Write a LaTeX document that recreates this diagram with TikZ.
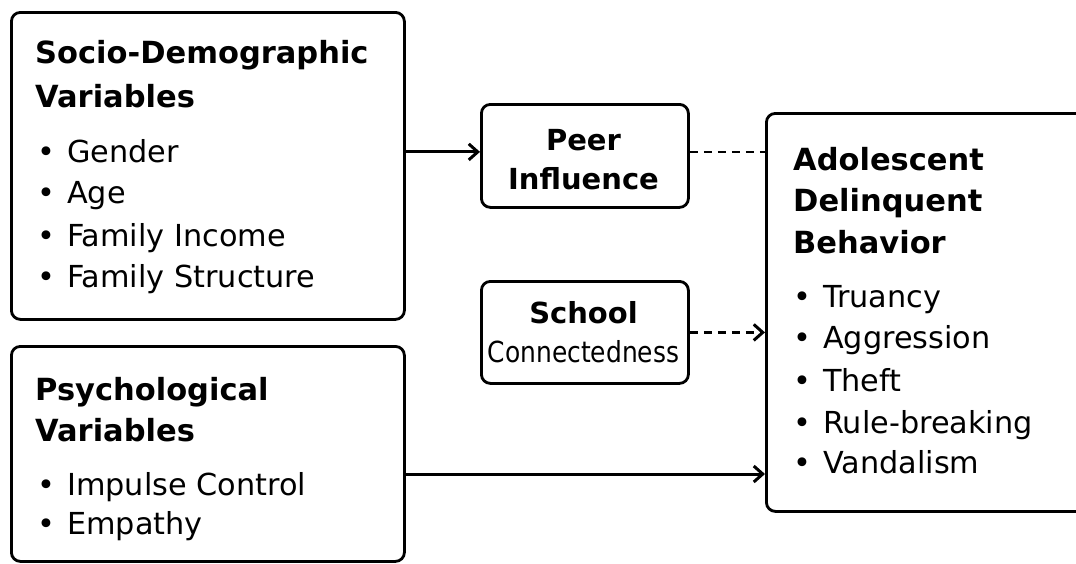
\documentclass[tikz,border=0pt]{standalone}
\usepackage{fontspec}
\setmainfont{DejaVu Sans}
\usetikzlibrary{arrows.meta,calc}
\tikzset{
  box/.style={draw=black, line width=2.8pt, rounded corners=9pt, fill=white, inner sep=0pt, anchor=north west},
  head/.style={anchor=base west, inner sep=0pt, font=\fontsize{30.5}{36}\selectfont\bfseries},
  item/.style={anchor=base west, inner sep=0pt, font=\fontsize{30.3}{36}\selectfont},
  ctext/.style={anchor=base, inner sep=0pt, font=\fontsize{29}{34}\selectfont\bfseries},
  conn/.style={line width=3pt, draw=black},
  tip/.style={-{Straight Barb[length=9pt,width=16pt,line width=3pt]}},
  dashline/.style={line width=2.5pt, dash pattern=on 8pt off 6pt}
}
\begin{document}
\begin{tikzpicture}[x=1pt,y=-1pt]
\useasboundingbox (0,0) rectangle (1076,563);
\clip (0,0) rectangle (1076,563);
\fill[white] (0,0) rectangle (1076,563);
% boxes
\node[box, minimum width=393pt, minimum height=307pt] (socio) at (10,11) {};
\node[box, minimum width=393pt, minimum height=215pt] (psych) at (10,345) {};
\node[box, minimum width=207pt, minimum height=103pt] (peer) at (480,103) {};
\node[box, minimum width=207pt, minimum height=102pt] (school) at (480,280) {};
\node[box, minimum width=330pt, minimum height=398pt] (outc) at (765,112) {};
% socio text
\node[head] (sh1) at (35,63) {Socio-Demographic};
\node[head] (sh2) at (35,107) {Variables};
\foreach \t/\y [count=\i] in {Gender/162, Age/203, Family Income/246, Family Structure/287}
  \node[item] (si\i) at (37,\y) {•\hspace{0.4em}\t};
% psych text
\node[head] (ph1) at (35,400) {Psychological};
\node[head] (ph2) at (35,441) {Variables};
\foreach \t/\y [count=\i] in {Impulse Control/495, Empathy/534}
  \node[item] (pi\i) at (37,\y) {•\hspace{0.4em}\t};
% peer / school
\node[ctext] (pt1) at (583.5,150) {Peer};
\node[ctext] (pt2) at (583.5,189) {Influence};
\node[ctext] (st1) at (583.5,323) {School};
\node[ctext, font=\fontsize{29}{34}\selectfont] (st2) at (583.5,362) {\scalebox{0.86}[1]{Connectedness}};
% outcome text
\node[head] (oh1) at (793,170) {Adolescent};
\node[head] (oh2) at (793,211) {Delinquent};
\node[head] (oh3) at (793,253) {Behavior};
\foreach \t/\y [count=\i] in {Truancy/307, Aggression/348, Theft/391, Rule-breaking/433, Vandalism/473}
  \node[item] (oi\i) at (793,\y) {•\hspace{0.4em}\t};
% connectors
\coordinate (pw) at ($(peer.west)+(0,-4)$);
\coordinate (pe) at ($(peer.east)+(0,-4)$);
\coordinate (pa) at (403,474);
\draw[conn, tip] (pw -| socio.east) -- (pw);
\draw[conn, dashline] (pe) -- (pe -| outc.west);
\draw[conn, dashline, tip] (school.east) -- (school.east -| outc.west);
\draw[conn, tip] (pa) -- (pa -| outc.west);
\end{tikzpicture}
\end{document}
